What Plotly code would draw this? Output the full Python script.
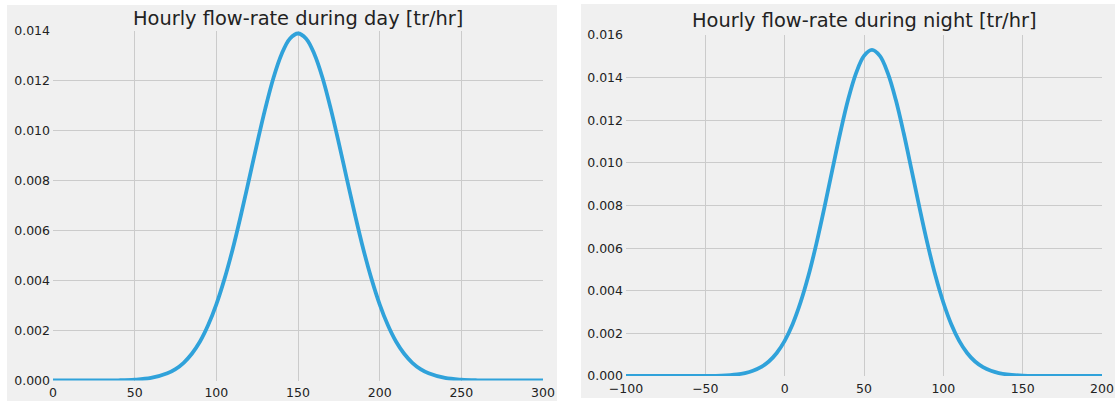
import plotly.graph_objects as go

# ---- data ----
day_x = [0, 10, 20, 30, 40, 50, 60, 70, 75, 80, 85, 90, 95, 100, 105, 110, 115, 120,
         125, 130, 135, 140, 145, 150, 155, 160, 165, 170, 175, 180, 185, 190, 195,
         200, 205, 210, 215, 220, 225, 230, 240, 250, 260, 270, 280, 290, 300]
day_y = [0.0, 0.0, 0.0, 0.000002, 0.000009, 0.000032, 0.000102, 0.00029, 0.000457,
         0.00071, 0.00107, 0.00156, 0.00222, 0.00305, 0.00407, 0.00526, 0.00661,
         0.00805, 0.00951, 0.01090, 0.01213, 0.01308, 0.01369, 0.0139,
         0.01369, 0.01308, 0.01213, 0.01090, 0.00951, 0.00805, 0.00661, 0.00526,
         0.00407, 0.00305, 0.00222, 0.00156, 0.00107, 0.00071, 0.000457, 0.00029,
         0.000102, 0.000032, 0.000009, 0.000002, 0.0, 0.0, 0.0]

night_x = [-100, -90, -80, -70, -60, -50, -40, -30, -25, -20, -15, -10, -5, 0, 5, 10,
           15, 20, 25, 30, 35, 40, 45, 50, 55, 60, 65, 70, 75, 80, 85, 90, 95, 100,
           105, 110, 115, 120, 125, 130, 135, 140, 150, 160, 170, 180, 190, 200]
night_y = [0.0, 0.0, 0.0, 0.0, 0.0000009, 0.0000046, 0.000020, 0.000075, 0.000138,
           0.000244, 0.000416, 0.00068, 0.00108, 0.00165, 0.00243, 0.00345, 0.00471,
           0.00621, 0.00789, 0.00966, 0.01140, 0.01297, 0.01421, 0.01502, 0.0153,
           0.01502, 0.01421, 0.01297, 0.01140, 0.00966, 0.00789, 0.00621, 0.00471,
           0.00345, 0.00243, 0.00165, 0.00108, 0.00068, 0.000416, 0.000244, 0.000138,
           0.000075, 0.000020, 0.0000046, 0.0000009, 0.0, 0.0, 0.0]

day_title = "Hourly flow-rate during day [tr/hr]"
night_title = "Hourly flow-rate during night [tr/hr]"

day_xticks = [0, 50, 100, 150, 200, 250, 300]
day_yticks = [0.000, 0.002, 0.004, 0.006, 0.008, 0.010, 0.012, 0.014]
night_xticks = [-100, -50, 0, 50, 100, 150, 200]
night_yticks = [0.000, 0.002, 0.004, 0.006, 0.008, 0.010, 0.012, 0.014, 0.016]

# ---- styling ----
W, H = 1115, 401
BG = "#f0f0f0"
GRID = "#cbcbcb"
LINE = "#30a2da"
FONT = "DejaVu Sans"
TXT = "#222222"


def px_x(p):
    return p / W


def px_y(p):
    return 1 - p / H


fig = go.Figure()
fig.add_trace(go.Scatter(x=day_x, y=day_y, mode="lines", xaxis="x", yaxis="y",
                         line=dict(color=LINE, width=3.8, shape="spline", smoothing=1.0),
                         showlegend=False, hoverinfo="x+y"))
fig.add_trace(go.Scatter(x=night_x, y=night_y, mode="lines", xaxis="x2", yaxis="y2",
                         line=dict(color=LINE, width=3.8, shape="spline", smoothing=1.0),
                         showlegend=False, hoverinfo="x+y"))

axis_common = dict(showgrid=True, gridcolor=GRID, gridwidth=1, zeroline=False,
                   showline=False, ticks="", automargin=False,
                   tickfont=dict(family=FONT, size=12.5, color=TXT),
                   fixedrange=True)
xaxis_extra = dict(ticklabelstandoff=3)
yaxis_extra = dict(ticklabelstandoff=2, tickformat=".3f")

fig.update_layout(
    template="none",
    width=W, height=H,
    margin=dict(l=0, r=0, t=0, b=0, pad=0, autoexpand=False),
    paper_bgcolor="white",
    plot_bgcolor=BG,
    xaxis=dict(domain=[px_x(53), px_x(543)], range=[0, 300], tickvals=day_xticks,
               anchor="y", **axis_common, **xaxis_extra),
    yaxis=dict(domain=[px_y(380.5), px_y(31)], range=[0, 0.014], tickvals=day_yticks,
               anchor="x", **axis_common, **yaxis_extra),
    xaxis2=dict(domain=[px_x(626), px_x(1102)], range=[-100, 200], tickvals=night_xticks,
                anchor="y2", **axis_common, **xaxis_extra),
    yaxis2=dict(domain=[px_y(376), px_y(35)], range=[0, 0.016], tickvals=night_yticks,
                anchor="x2", **axis_common, **yaxis_extra),
    shapes=[
        dict(type="rect", xref="paper", yref="paper", layer="below",
             x0=px_x(7), x1=px_x(557), y0=px_y(401), y1=px_y(5),
             fillcolor=BG, line=dict(width=0)),
        dict(type="rect", xref="paper", yref="paper", layer="below",
             x0=px_x(581), x1=px_x(1115), y0=px_y(398), y1=px_y(4),
             fillcolor=BG, line=dict(width=0)),
    ],
    annotations=[
        dict(text=day_title, xref="paper", yref="paper", x=px_x(298), y=px_y(18.5),
             xanchor="center", yanchor="middle", showarrow=False,
             font=dict(family=FONT, size=19.4, color=TXT)),
        dict(text=night_title, xref="paper", yref="paper", x=px_x(864), y=px_y(20),
             xanchor="center", yanchor="middle", showarrow=False,
             font=dict(family=FONT, size=19.4, color=TXT)),
    ],
)

fig.write_html(
    "out.html",
    config={"displayModeBar": False},
    post_script="document.body.style.margin='0px';document.body.style.overflow='hidden';",
)
